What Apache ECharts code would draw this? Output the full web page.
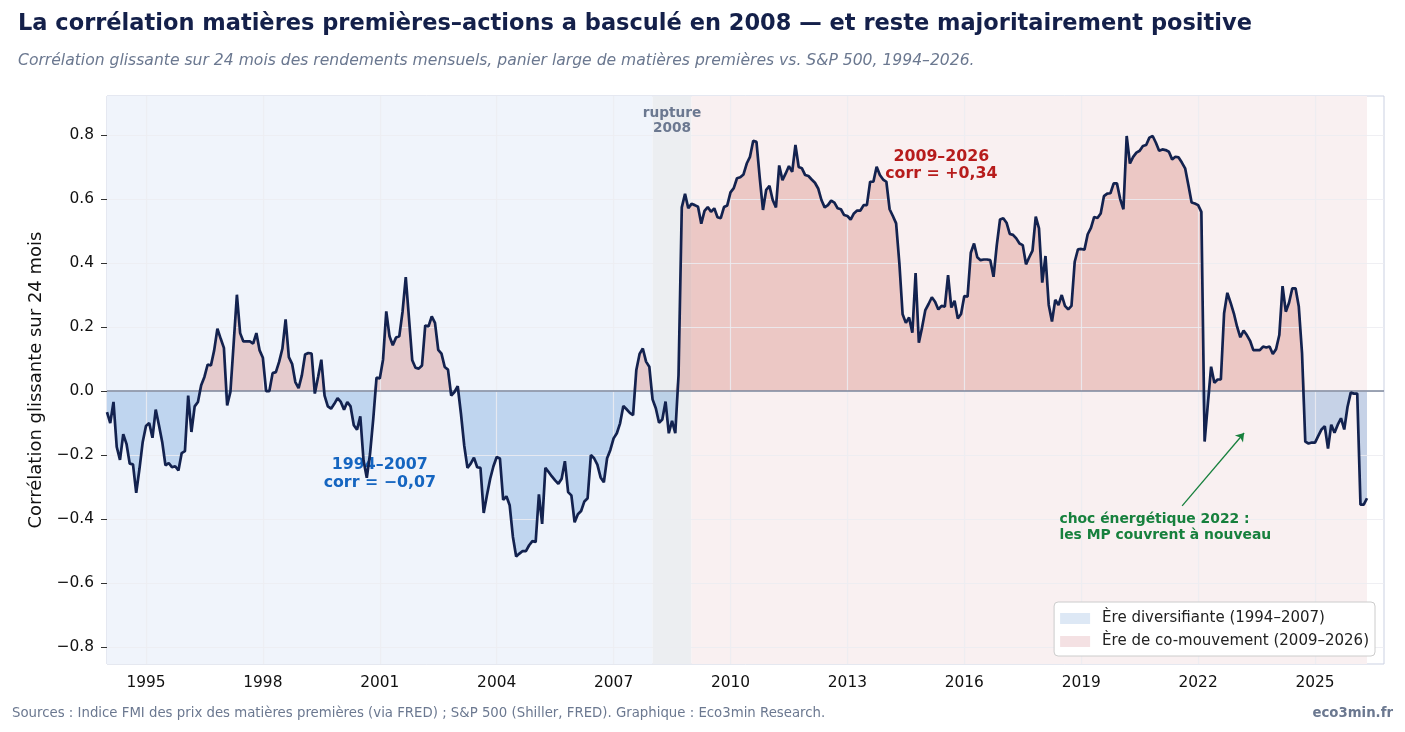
<!DOCTYPE html>
<html lang="fr">
<head>
<meta charset="utf-8">
<title>Corrélation matières premières–actions</title>
<script src="https://cdn.jsdelivr.net/npm/echarts@6/dist/echarts.min.js"></script>
<style>
  html, body { margin: 0; padding: 0; background: #fff; }
  #chart { width: 1405px; height: 732px; }
</style>
</head>
<body>
<div id="chart"></div>
<script>
// rolling 24-month correlation, monthly, starting Jan 1994
const corr1994_2001 = [
  -0.066, -0.10, -0.034, -0.175, -0.215, -0.135, -0.165, -0.227, -0.229, -0.318, -0.243, -0.159,
  -0.109, -0.100, -0.146, -0.058, -0.107, -0.159, -0.232, -0.225, -0.238, -0.235, -0.248, -0.194,
  -0.188, -0.014, -0.128, -0.048, -0.034, 0.018, 0.044, 0.083, 0.080, 0.127, 0.195, 0.164,
  0.135, -0.045, -0.003, 0.148, 0.301, 0.181, 0.155, 0.155, 0.155, 0.148, 0.181, 0.127,
  0.104, 0.0, 0.0, 0.056, 0.059, 0.091, 0.132, 0.224, 0.106, 0.085, 0.028, 0.009,
  0.049, 0.114, 0.119, 0.117, -0.008, 0.044, 0.098, -0.014, -0.048, -0.055, -0.040, -0.022,
  -0.034, -0.058, -0.034, -0.048, -0.107, -0.121, -0.079, -0.217, -0.271, -0.196, -0.086, 0.042,
  0.039, 0.098, 0.249, 0.171, 0.143, 0.167, 0.171, 0.247, 0.356, 0.226, 0.096, 0.073
];
const corr2002_2009 = [
  0.070, 0.080, 0.205, 0.202, 0.233, 0.213, 0.129, 0.117, 0.075, 0.067, -0.014, -0.003,
  0.015, -0.071, -0.170, -0.240, -0.227, -0.208, -0.238, -0.240, -0.381, -0.326, -0.274, -0.235,
  -0.206, -0.211, -0.340, -0.329, -0.357, -0.456, -0.517, -0.508, -0.500, -0.500, -0.482, -0.469,
  -0.472, -0.323, -0.415, -0.240, -0.253, -0.267, -0.279, -0.290, -0.274, -0.219, -0.316, -0.326,
  -0.410, -0.385, -0.375, -0.345, -0.335, -0.200, -0.210, -0.230, -0.270, -0.285, -0.210, -0.184,
  -0.148, -0.132, -0.101, -0.047, -0.057, -0.068, -0.075, 0.066, 0.116, 0.133, 0.092, 0.076,
  -0.026, -0.054, -0.099, -0.089, -0.033, -0.132, -0.093, -0.132, 0.050, 0.574, 0.616, 0.571,
  0.585, 0.581, 0.576, 0.523, 0.563, 0.575, 0.560, 0.571, 0.543, 0.540, 0.575, 0.580
];
const corr2010_2017 = [
  0.621, 0.634, 0.665, 0.668, 0.677, 0.711, 0.732, 0.782, 0.779, 0.667, 0.566, 0.629,
  0.641, 0.597, 0.574, 0.705, 0.659, 0.680, 0.703, 0.685, 0.769, 0.700, 0.696, 0.675,
  0.672, 0.661, 0.651, 0.633, 0.597, 0.574, 0.581, 0.595, 0.589, 0.571, 0.568, 0.550,
  0.547, 0.536, 0.555, 0.564, 0.564, 0.581, 0.581, 0.654, 0.654, 0.701, 0.675, 0.661,
  0.654, 0.568, 0.547, 0.524, 0.400, 0.240, 0.213, 0.230, 0.182, 0.369, 0.151, 0.199,
  0.253, 0.272, 0.293, 0.279, 0.255, 0.266, 0.264, 0.362, 0.261, 0.282, 0.227, 0.241,
  0.297, 0.295, 0.432, 0.461, 0.418, 0.409, 0.411, 0.411, 0.409, 0.357, 0.456, 0.536,
  0.540, 0.526, 0.491, 0.488, 0.477, 0.461, 0.456, 0.396, 0.418, 0.439, 0.545, 0.508
];
const corr2018_2026 = [
  0.339, 0.422, 0.269, 0.217, 0.285, 0.269, 0.300, 0.266, 0.255, 0.266, 0.404, 0.443,
  0.444, 0.442, 0.490, 0.510, 0.544, 0.541, 0.555, 0.609, 0.617, 0.618, 0.649, 0.649,
  0.600, 0.568, 0.797, 0.711, 0.732, 0.745, 0.751, 0.766, 0.769, 0.792, 0.797, 0.776,
  0.751, 0.755, 0.753, 0.748, 0.724, 0.732, 0.730, 0.714, 0.696, 0.644, 0.589, 0.586,
  0.581, 0.560, -0.158, -0.040, 0.076, 0.026, 0.036, 0.036, 0.243, 0.307, 0.276, 0.243,
  0.201, 0.168, 0.189, 0.175, 0.157, 0.128, 0.128, 0.128, 0.139, 0.136, 0.139, 0.116,
  0.131, 0.175, 0.328, 0.248, 0.276, 0.321, 0.321, 0.264, 0.118, -0.158, -0.164, -0.161,
  -0.161, -0.140, -0.120, -0.110, -0.180, -0.105, -0.130, -0.105, -0.085, -0.120, -0.050, -0.005,
  -0.008, -0.008, -0.355, -0.355, -0.335
];

const xTickYears = [1995, 1998, 2001, 2004, 2007, 2010, 2013, 2016, 2019, 2022, 2025];
const yTicks = [-0.8, -0.6, -0.4, -0.2, 0, 0.2, 0.4, 0.6, 0.8];

const eraNames = ['Ère diversifiante (1994–2007)', 'Ère de co-mouvement (2009–2026)'];

// x is a decimal year: Jan 1994 = 1994.0, each step one month
const corrValues = [].concat(corr1994_2001, corr2002_2009, corr2010_2017, corr2018_2026);
const monthX = corrValues.map((_, i) => 1994 + i / 12);
const linePoints = corrValues.map((v, i) => [monthX[i], v]);
const posPoints = corrValues.map((v, i) => [monthX[i], v > 0 ? v : 0]);
const negPoints = corrValues.map((v, i) => [monthX[i], v < 0 ? v : 0]);
const lastX = monthX[monthX.length - 1];

const FONT = 'DejaVu Sans';
const gridColor = 'rgba(236,236,241,0.85)';

const chart = echarts.init(document.getElementById('chart'));

const option = {
  animation: false,
  backgroundColor: '#ffffff',
  textStyle: { fontFamily: FONT },
  title: [
    {
      text: 'La corrélation matières premières–actions a basculé en 2008 — et reste majoritairement positive',
      left: 13, top: 8,
      textStyle: { fontFamily: FONT, fontSize: 22.5, fontWeight: 'bold', color: '#14204a' }
    },
    {
      text: 'Corrélation glissante sur 24 mois des rendements mensuels, panier large de matières premières vs. S&P 500, 1994–2026.',
      left: 13, top: 48,
      textStyle: { fontFamily: FONT, fontSize: 15.6, fontStyle: 'italic', fontWeight: 'normal', color: '#6b7890' }
    },
    {
      text: 'Sources : Indice FMI des prix des matières premières (via FRED) ; S&P 500 (Shiller, FRED). Graphique : Eco3min Research.',
      left: 7, top: 702,
      textStyle: { fontFamily: FONT, fontSize: 13.3, fontWeight: 'normal', color: '#6b7890' }
    },
    {
      text: 'eco3min.fr',
      right: 7, top: 702,
      textStyle: { fontFamily: FONT, fontSize: 13.3, fontWeight: 'bold', color: '#6b7890' }
    }
  ],
  legend: {
    data: eraNames,
    orient: 'vertical',
    right: 30, bottom: 76,
    z: 20,
    icon: 'rect',
    itemWidth: 30, itemHeight: 11, itemGap: 8,
    padding: [9, 6, 7, 6],
    backgroundColor: '#ffffff',
    borderColor: '#cccccc', borderWidth: 1, borderRadius: 4,
    selectedMode: false,
    textStyle: { fontFamily: FONT, fontSize: 15, color: '#222', padding: [0, 0, 0, 7] }
  },
  grid: {
    left: 107, right: 21, top: 96, bottom: 68,
    show: true, backgroundColor: '#ffffff',
    borderColor: '#cbd1e2', borderWidth: 1
  },
  xAxis: {
    type: 'value',
    min: 1994, max: 2026.77,
    axisLine: { show: false },
    splitLine: { show: false },
    axisTick: { show: true, length: 6, lineStyle: { color: '#333' }, customValues: xTickYears },
    axisLabel: {
      customValues: xTickYears,
      formatter: v => String(Math.round(v)),
      fontFamily: FONT, fontSize: 15.4, color: '#111', margin: 11
    }
  },
  yAxis: {
    type: 'value',
    min: -0.853, max: 0.922,
    name: 'Corrélation glissante sur 24 mois',
    nameLocation: 'middle', nameGap: 62,
    nameTextStyle: { fontFamily: FONT, fontSize: 18, color: '#111' },
    axisLine: { show: false },
    splitLine: { show: false },
    axisTick: { show: true, length: 6, lineStyle: { color: '#333' }, customValues: yTicks },
    axisLabel: {
      customValues: yTicks,
      formatter: v => (v < 0 ? '−' : '') + Math.abs(v).toFixed(1),
      fontFamily: FONT, fontSize: 15.4, color: '#111', margin: 13
    }
  },
  series: [
    {
      name: eraNames[0], type: 'line', data: [], z: 1, color: '#dde8f5',
      markArea: {
        silent: true,
        itemStyle: { color: '#f0f4fb' },
        data: [[{ xAxis: 1994 }, { xAxis: 2008 }]]
      }
    },
    {
      name: 'rupture', type: 'line', data: [], z: 1,
      markArea: {
        silent: true,
        itemStyle: { color: '#eceef1' },
        data: [[{ xAxis: 2008 }, { xAxis: 2009 }]]
      }
    },
    {
      name: eraNames[1], type: 'line', data: [], z: 1, color: '#f4e1e3',
      markArea: {
        silent: true,
        itemStyle: { color: '#f9f0f1' },
        data: [[{ xAxis: 2009 }, { xAxis: lastX }]]
      }
    },
    {
      name: 'pos', type: 'line', data: posPoints, z: 2,
      showSymbol: false, silent: true,
      lineStyle: { width: 0 },
      areaStyle: { color: 'rgba(192,57,43,0.22)', opacity: 1 }
    },
    {
      name: 'neg', type: 'line', data: negPoints, z: 2,
      showSymbol: false, silent: true,
      lineStyle: { width: 0 },
      areaStyle: { color: 'rgba(31,111,200,0.23)', opacity: 1 }
    },
    {
      // grid lines, drawn over the fills like the original
      name: 'grid', type: 'line', data: [], z: 3,
      markLine: {
        silent: true, symbol: 'none',
        label: { show: false },
        lineStyle: { color: gridColor, width: 1.2, type: 'solid' },
        data: xTickYears.map(t => ({ xAxis: t })).concat(yTicks.map(v => ({ yAxis: v })))
      }
    },
    {
      name: 'zero', type: 'line', data: [], z: 4,
      markLine: {
        silent: true, symbol: 'none',
        label: { show: false },
        lineStyle: { color: '#7d879c', width: 1.6, type: 'solid' },
        data: [{ yAxis: 0 }]
      }
    },
    {
      name: 'Corrélation', type: 'line', data: linePoints, z: 5,
      showSymbol: false, silent: true,
      lineStyle: { color: '#13224f', width: 2.7 },
      itemStyle: { color: '#13224f' }
    },
    {
      name: 'notes', type: 'line', data: [], z: 6,
      markPoint: {
        silent: true, symbol: 'circle', symbolSize: 0,
        itemStyle: { color: 'transparent' },
        data: [
          {
            coord: [2008.5, 0.845],
            label: { show: true, position: 'inside', formatter: 'rupture\n2008', fontFamily: FONT,
              fontSize: 13.7, fontWeight: 'bold', color: '#6b7890', lineHeight: 15, align: 'center' }
          },
          {
            coord: [2015.41, 0.705],
            label: { show: true, position: 'inside', formatter: '2009–2026\ncorr = +0,34', fontFamily: FONT,
              fontSize: 15.8, fontWeight: 'bold', color: '#b71c1c', lineHeight: 17, align: 'center' }
          },
          {
            coord: [2001.0, -0.259],
            label: { show: true, position: 'inside', formatter: '1994–2007\ncorr = −0,07', fontFamily: FONT,
              fontSize: 15.8, fontWeight: 'bold', color: '#1565c0', lineHeight: 18, align: 'center' }
          },
          {
            coord: [2018.44, -0.425],
            label: { show: true, position: 'inside', formatter: 'choc énergétique 2022 :\nles MP couvrent à nouveau',
              fontFamily: FONT, fontSize: 13.9, fontWeight: 'bold', color: '#17803d', lineHeight: 16, align: 'left' }
          }
        ]
      },
      markLine: {
        silent: true,
        symbol: ['none', 'arrow'], symbolSize: 8,
        label: { show: false },
        lineStyle: { color: '#17803d', width: 1.3, type: 'solid' },
        data: [[
          { coord: [2021.59, -0.359] },
          { coord: [2023.18, -0.131] }
        ]]
      }
    }
  ]
};

chart.setOption(option);
window.addEventListener('resize', () => chart.resize());
</script>
</body>
</html>
